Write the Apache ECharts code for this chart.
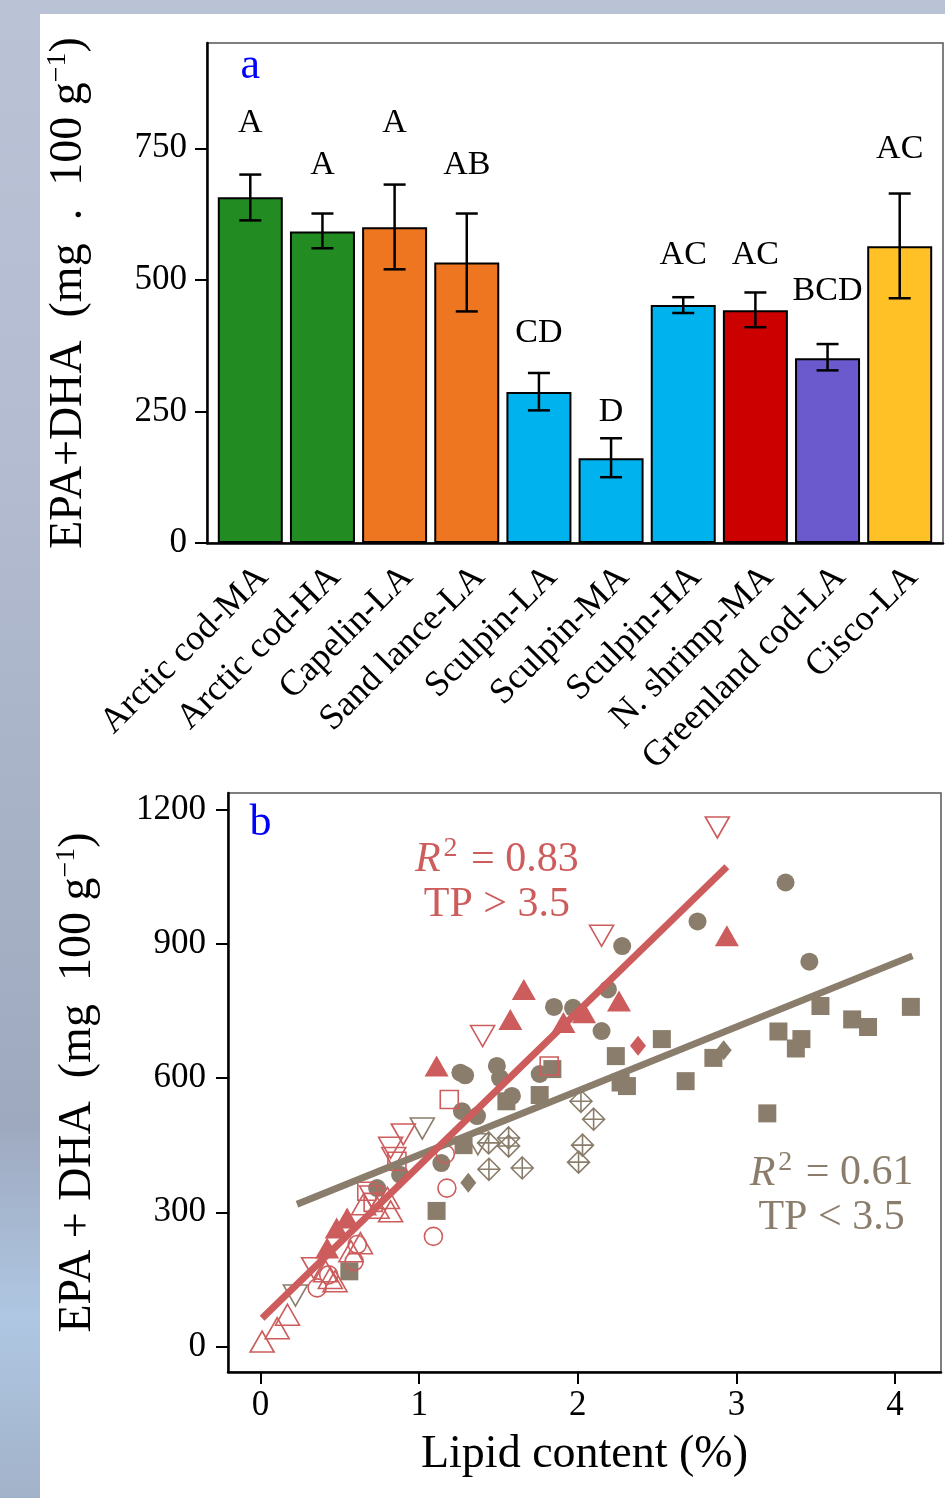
<!DOCTYPE html>
<html>
<head>
<meta charset="utf-8">
<script src="https://cdn.jsdelivr.net/npm/echarts@6/dist/echarts.min.js"></script>
<style>
  html, body { margin: 0; padding: 0; width: 945px; height: 1498px; overflow: hidden; }
  body {
    background: linear-gradient(to bottom, #bac3d6 0%, #b3bcd0 30%, #a8b2c7 55%, #9ea9bf 75%, #afc7e3 88%, #a2b2c9 100%);
  }
  #paper { position: absolute; left: 40px; top: 14px; right: 0; bottom: 0; background: #fff; }
  #chart { position: absolute; left: 0; top: 0; width: 945px; height: 1498px; }
</style>
</head>
<body>
<div id="paper"></div>
<div id="chart"></div>
<script>
"use strict";

// ---- panel a data ----
const catNames = ["Arctic cod-MA", "Arctic cod-HA", "Capelin-LA", "Sand lance-LA", "Sculpin-LA",
  "Sculpin-MA", "Sculpin-HA", "N. shrimp-MA", "Greenland cod-LA", "Cisco-LA"];
const barValues = [657, 592, 600, 533, 287, 161, 452, 442, 351, 564];
const errLow = [613, 560, 520, 440, 252, 125, 437, 410, 328, 465];
const errHigh = [700, 626, 681, 626, 323, 199, 467, 476, 378, 664];
const groupLetters = ["A", "A", "A", "AB", "CD", "D", "AC", "AC", "BCD", "AC"];
const letterY = [797, 718, 797, 718, 399, 249, 547, 547, 478, 748];
const barColors = ["#228B22", "#228B22", "#EE7621", "#EE7621", "#00B2EE", "#00B2EE",
  "#00B2EE", "#CD0000", "#6A5ACD", "#FFC125"];
const yTicksA = [0, 250, 500, 750];

// ---- panel b data (lipid %, EPA+DHA) ----
const redOpenUp = [[0.01, 11], [0.105, 41], [0.17, 71], [0.41, 168], [0.44, 153], [0.47, 146],
  [0.57, 213], [0.63, 231], [0.65, 318], [0.735, 310], [0.80, 332], [0.82, 302]];
const redFilledUp = [[0.42, 220], [0.48, 265], [0.546, 287], [1.11, 627], [1.575, 731], [1.66, 798],
  [1.91, 724], [2.04, 746], [2.26, 772], [2.94, 918]];
const redOpenDown = [[0.335, 175], [0.70, 335], [0.82, 444], [0.84, 421], [0.90, 474], [1.40, 694],
  [2.15, 918], [2.88, 1160]];
const redOpenCircle = [[0.357, 131], [0.43, 160], [0.59, 190], [0.61, 228], [1.09, 246], [1.175, 354],
  [1.165, 430]];
const redOpenSquare = [[0.67, 347], [0.71, 322], [0.86, 414], [1.19, 552], [1.82, 627]];
const redFilledDiamond = [[2.38, 672]];
const brownFilledCircle = [[0.735, 354], [0.88, 384], [1.14, 410], [1.26, 612], [1.29, 606], [1.27, 526],
  [1.365, 515], [1.49, 627], [1.51, 600], [1.585, 560], [1.76, 609], [1.85, 759], [1.97, 757],
  [2.15, 705], [2.19, 798], [2.28, 895], [2.755, 950], [3.31, 1037], [3.46, 860]];
const brownFilledSquare = [[0.56, 168], [1.11, 303], [1.28, 450], [1.55, 548], [1.76, 562], [1.84, 620],
  [2.24, 649], [2.27, 590], [2.31, 582], [2.53, 687], [2.68, 593], [2.855, 645], [3.195, 521],
  [3.265, 704], [3.41, 687], [3.375, 666], [3.53, 761], [3.73, 731], [3.83, 714], [4.10, 759]];
const brownFilledDiamond = [[1.31, 366], [2.92, 662]];
const brownOpenDown = [[0.22, 114], [1.02, 487], [1.37, 452]];
const brownDiamondCross = [[1.438, 455], [1.564, 466], [1.564, 448], [1.44, 396], [1.65, 399],
  [2.02, 548], [2.10, 508], [2.03, 450], [2.005, 412]];
const redFitLine = [[0.01, 63], [2.94, 1072]];
const brownFitLine = [[0.23, 318], [4.11, 873]];
const yTicksB = [0, 300, 600, 900, 1200];
const xTicksB = [0, 1, 2, 3, 4];

const FONT = "Liberation Serif";
const RED = "#CD5C5C";
const BROWN = "#8B7D6B";

const chart = echarts.init(document.getElementById("chart"), null, { renderer: "canvas" });

const axisLineStyle = { onZero: false, lineStyle: { color: "#000", width: 2.5 } };
const tickStyle = { show: true, inside: false, length: 12, lineStyle: { color: "#000", width: 2 } };

function textSeries(xi, yi, data, fmt, rich) {
  return {
    type: "scatter", xAxisIndex: xi, yAxisIndex: yi, data: data,
    symbolSize: 1, itemStyle: { color: "rgba(0,0,0,0)", opacity: 1 }, silent: true, z: 5,
    label: { show: true, position: "inside", align: "center", verticalAlign: "middle",
      formatter: fmt, rich: rich, fontFamily: FONT, opacity: 1 },
  };
}

function pointSeries(data, symbol, size, color, hollow, rotate) {
  return {
    type: "scatter", xAxisIndex: 1, yAxisIndex: 1, data: data,
    symbol: symbol, symbolSize: size, symbolRotate: rotate || 0, silent: true,
    itemStyle: hollow
      ? { color: "rgba(0,0,0,0)", borderColor: color, borderWidth: 1.6, opacity: 1 }
      : { color: color, borderWidth: 0, opacity: 1 },
  };
}

const titleRich = {
  a: { fontFamily: FONT, fontSize: 46, color: "#000" },
  s: { fontFamily: FONT, fontSize: 28, color: "#000", verticalAlign: "bottom", padding: [0, 0, 22, 0] },
};

chart.setOption({
  animation: false,
  grid: [
    { left: 207, top: 43, width: 736, height: 500, show: true, borderColor: "#555", borderWidth: 1.5 },
    { left: 228, top: 793, width: 713, height: 579, show: true, borderColor: "#555", borderWidth: 1.5 },
  ],
  xAxis: [
    {
      type: "value", gridIndex: 0, min: -0.6, max: 9.6,
      axisLine: axisLineStyle, axisTick: { show: false }, splitLine: { show: false },
      axisLabel: {
        customValues: catNames.map((_, i) => i), rotate: 45, margin: 16, verticalAlign: "top",
        formatter: (v) => catNames[Math.round(v)], fontFamily: FONT, fontSize: 36, color: "#000",
      },
    },
    {
      type: "value", gridIndex: 1, min: -0.205, max: 4.29,
      axisLine: axisLineStyle, splitLine: { show: false },
      axisTick: Object.assign({ customValues: xTicksB }, tickStyle),
      axisLabel: { customValues: xTicksB, margin: 16, fontFamily: FONT, fontSize: 35, color: "#000" },
      name: "Lipid content (%)", nameLocation: "middle", nameGap: 60,
      nameTextStyle: { fontFamily: FONT, fontSize: 46, color: "#000", verticalAlign: "top" },
    },
  ],
  yAxis: [
    {
      type: "value", gridIndex: 0, min: 0, max: 950,
      axisLine: axisLineStyle, splitLine: { show: false },
      axisTick: Object.assign({ customValues: yTicksA }, tickStyle),
      axisLabel: { customValues: yTicksA, margin: 20, fontFamily: FONT, fontSize: 35, color: "#000" },
      name: "{a|EPA+DHA  (mg  .  100 g}{s|−1}{a|)}", nameLocation: "middle", nameRotate: 90, nameGap: 113,
      nameTextStyle: { rich: titleRich },
    },
    {
      type: "value", gridIndex: 1, min: -57, max: 1237,
      axisLine: axisLineStyle, splitLine: { show: false },
      axisTick: Object.assign({ customValues: yTicksB }, tickStyle),
      axisLabel: { customValues: yTicksB, margin: 22, fontFamily: FONT, fontSize: 35, color: "#000",
        formatter: (v) => String(v) },
      name: "{a|EPA + DHA  (mg  100 g}{s|−1}{a|)}", nameLocation: "middle", nameRotate: 90, nameGap: 125,
      nameTextStyle: { rich: titleRich },
    },
  ],
  series: [
    // panel a bars
    {
      type: "bar", xAxisIndex: 0, yAxisIndex: 0, barWidth: 65, silent: true,
      data: barValues.map((v, i) => ({ value: [i, v], itemStyle: { color: barColors[i] } })),
      itemStyle: { borderColor: "#000", borderWidth: 2 },
    },
    // error bars
    {
      type: "custom", xAxisIndex: 0, yAxisIndex: 0, silent: true, z: 4,
      data: errLow.map((l, i) => [i, l, errHigh[i]]),
      encode: { x: 0, y: [1, 2] },
      renderItem: function (params, api) {
        const x = api.value(0);
        const pLo = api.coord([x, api.value(1)]);
        const pHi = api.coord([x, api.value(2)]);
        const hw = 11;
        const st = { stroke: "#000", lineWidth: 2.5 };
        return {
          type: "group", children: [
            { type: "line", shape: { x1: pLo[0], y1: pLo[1], x2: pHi[0], y2: pHi[1] }, style: st },
            { type: "line", shape: { x1: pLo[0] - hw, y1: pLo[1], x2: pLo[0] + hw, y2: pLo[1] }, style: st },
            { type: "line", shape: { x1: pHi[0] - hw, y1: pHi[1], x2: pHi[0] + hw, y2: pHi[1] }, style: st },
          ],
        };
      },
    },
    // group letters
    textSeries(0, 0, letterY.map((y, i) => [i, y]), (p) => "{t|" + groupLetters[p.dataIndex] + "}",
      { t: { fontFamily: FONT, fontSize: 34, color: "#000" } }),
    // panel tags
    textSeries(0, 0, [[0, 905]], () => "{t|a}", { t: { fontFamily: FONT, fontSize: 44, color: "#0000FF" } }),
    textSeries(1, 1, [[0, 1170]], () => "{t|b}", { t: { fontFamily: FONT, fontSize: 44, color: "#0000FF" } }),

    // panel b points
    pointSeries(brownFilledSquare, "rect", 18, BROWN, false),
    pointSeries(brownFilledCircle, "circle", 18, BROWN, false),
    pointSeries(brownFilledDiamond, "diamond", [16, 20], BROWN, false),
    pointSeries(brownOpenDown, "triangle", [24, 21], BROWN, true, 180),
    pointSeries(brownDiamondCross, "path://M0,-10L10,0L0,10L-10,0Z M0,-10L0,10 M-10,0L10,0", 22, BROWN, true),
    pointSeries(redOpenUp, "triangle", [24, 21], RED, true),
    pointSeries(redFilledUp, "triangle", [24, 21], RED, false),
    pointSeries(redOpenDown, "triangle", [24, 21], RED, true, 180),
    pointSeries(redOpenCircle, "circle", 18, RED, true),
    pointSeries(redOpenSquare, "rect", 18, RED, true),
    pointSeries(redFilledDiamond, "diamond", [16, 20], RED, false),

    // fitted lines
    {
      type: "line", xAxisIndex: 1, yAxisIndex: 1, data: brownFitLine, symbol: "none", silent: true,
      lineStyle: { color: BROWN, width: 7, opacity: 1 }, z: 3,
    },
    {
      type: "line", xAxisIndex: 1, yAxisIndex: 1, data: redFitLine, symbol: "none", silent: true,
      lineStyle: { color: RED, width: 7, opacity: 1 }, z: 3,
    },

    // R2 annotations
    textSeries(1, 1, [[1.49, 1043]], () => "{i|R}{s|2}{n| = 0.83}\n{n|TP > 3.5}", {
      i: { fontFamily: FONT, fontStyle: "italic", fontSize: 42, color: RED, lineHeight: 40 },
      s: { fontFamily: FONT, fontSize: 28, color: RED, verticalAlign: "bottom", padding: [0, 3, 22, 3] },
      n: { fontFamily: FONT, fontSize: 42, color: RED, lineHeight: 40 },
    }),
    textSeries(1, 1, [[3.60, 342]], () => "{i|R}{s|2}{n| = 0.61}\n{n|TP < 3.5}", {
      i: { fontFamily: FONT, fontStyle: "italic", fontSize: 42, color: BROWN, lineHeight: 40 },
      s: { fontFamily: FONT, fontSize: 28, color: BROWN, verticalAlign: "bottom", padding: [0, 3, 22, 3] },
      n: { fontFamily: FONT, fontSize: 42, color: BROWN, lineHeight: 40 },
    }),
  ],
});
</script>
</body>
</html>
